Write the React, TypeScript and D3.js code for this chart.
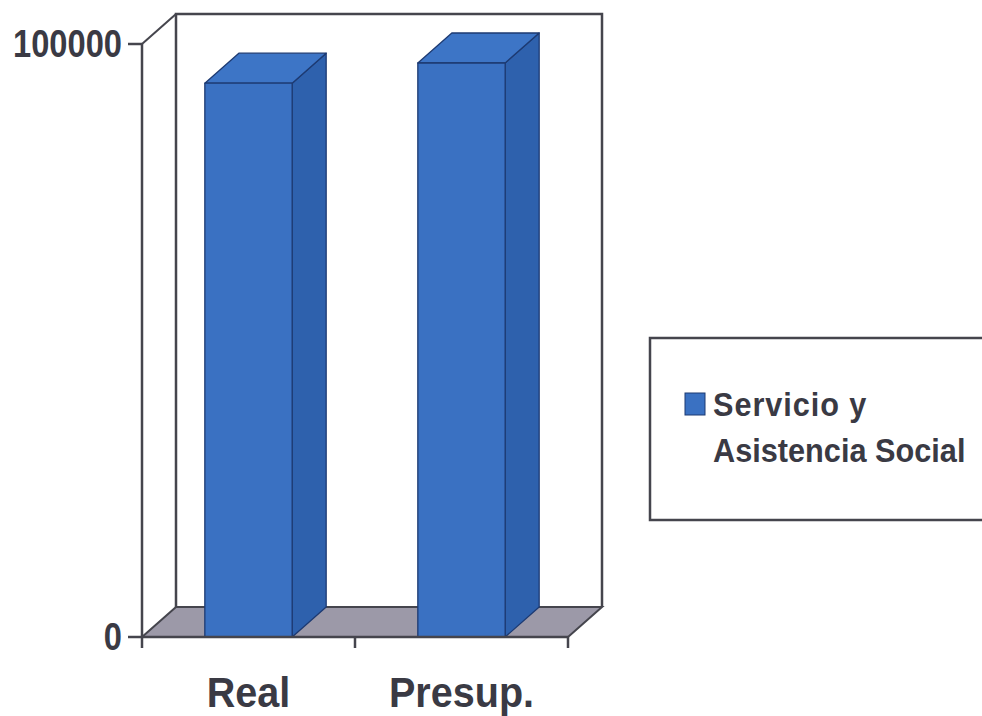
import React from "react";
import * as d3 from "d3";

const categories = ["Real", "Presup."];
const values = [93400, 96800];
const yTicks = [0, 100000];
const yTickLabels = ["0", "100000"];
const seriesName = ["Servicio y", "Asistencia Social"];

const W = 982;
const H = 716;
const FONT = "'Liberation Sans', Arial, sans-serif";

export default function App() {
  const x0 = 142;
  const x1 = 568;
  const yBottom = 637;
  const yTop = 44;
  const dx = 34;
  const dy = 30;

  const x = d3
    .scaleBand<string>()
    .domain(categories)
    .range([x0, x1])
    .paddingInner(0.59)
    .paddingOuter(0.295);
  const y = d3.scaleLinear().domain([0, 100000]).range([yBottom, yTop]);
  const xStep = d3.scaleBand<string>().domain(categories).range([x0, x1]);

  const edge = "#1d3a72";
  const front = "#3a71c2";
  const top = "#3d75c6";
  const side = "#2e61ad";
  const axisCol = "#45454d";
  const textCol = "#3a3a44";

  const poly = (pts: [number, number][]) => pts.map((p) => p.join(",")).join(" ");

  return (
    <svg
      width={W}
      height={H}
      style={{ position: "absolute", left: 0, top: 0, background: "#ffffff" }}
    >
      {/* back wall */}
      <polyline
        points={poly([
          [x0 + dx, yBottom - dy],
          [x0 + dx, yTop - dy],
          [x1 + dx, yTop - dy],
          [x1 + dx, yBottom - dy],
        ])}
        fill="none"
        stroke={axisCol}
        strokeWidth={2.5}
      />
      {/* floor */}
      <polygon
        points={poly([
          [x0, yBottom],
          [x1, yBottom],
          [x1 + dx, yBottom - dy],
          [x0 + dx, yBottom - dy],
        ])}
        fill="#9c99a8"
        stroke={axisCol}
        strokeWidth={2}
      />
      {/* side wall diagonal top */}
      <line x1={x0} y1={yTop} x2={x0 + dx} y2={yTop - dy} stroke={axisCol} strokeWidth={2} />

      {/* bars */}
      {categories.map((c, i) => {
        const bx0 = x(c)!;
        const bx1 = bx0 + x.bandwidth();
        const yv = y(values[i]);
        const y0 = y(0);
        return (
          <g key={c} stroke={edge} strokeWidth={1.3} strokeLinejoin="round">
            <polygon
              points={poly([
                [bx1, yv],
                [bx1 + dx, yv - dy],
                [bx1 + dx, y0 - dy],
                [bx1, y0],
              ])}
              fill={side}
            />
            <polygon
              points={poly([
                [bx0, yv],
                [bx1, yv],
                [bx1 + dx, yv - dy],
                [bx0 + dx, yv - dy],
              ])}
              fill={top}
            />
            <rect x={bx0} y={yv} width={bx1 - bx0} height={y0 - yv} fill={front} />
          </g>
        );
      })}

      {/* y axis */}
      <line x1={x0} y1={yTop} x2={x0} y2={yBottom} stroke={axisCol} strokeWidth={2.5} />
      {yTicks.map((t, i) => (
        <g key={t}>
          <line x1={x0 - 14} y1={y(t)} x2={x0} y2={y(t)} stroke={axisCol} strokeWidth={2.5} />
          <text
            transform={`translate(${x0 - 20},${y(t) + 13}) scale(0.86,1)`}
            textAnchor="end"
            fontFamily={FONT}
            fontWeight="bold"
            fontSize={38}
            fill={textCol}
          >
            {yTickLabels[i]}
          </text>
        </g>
      ))}

      {/* x axis */}
      <line x1={x0} y1={yBottom} x2={x1} y2={yBottom} stroke={axisCol} strokeWidth={2.5} />
      {[...categories.map((c) => xStep(c)!), x1].map((tx, i) => (
        <line key={i} x1={tx} y1={yBottom} x2={tx} y2={yBottom + 11} stroke={axisCol} strokeWidth={2.5} />
      ))}
      {categories.map((c) => (
        <text
          key={c}
          transform={`translate(${xStep(c)! + xStep.bandwidth() / 2},707) scale(0.92,1)`}
          textAnchor="middle"
          fontFamily={FONT}
          fontWeight="bold"
          fontSize={43}
          fill={textCol}
        >
          {c}
        </text>
      ))}

      {/* legend */}
      <rect x={650} y={338} width={360} height={182} fill="#ffffff" stroke={axisCol} strokeWidth={2.5} />
      <rect x={685} y={393} width={20} height={22} fill={front} stroke={edge} strokeWidth={1} />
      {seriesName.map((s, i) => (
        <text
          key={s}
          transform={`translate(713,${416 + i * 46}) scale(0.93,1)`}
          fontFamily={FONT}
          fontWeight="bold"
          fontSize={33}
          letterSpacing={i === 0 ? 1 : 0}
          fill={textCol}
        >
          {s}
        </text>
      ))}
    </svg>
  );
}
